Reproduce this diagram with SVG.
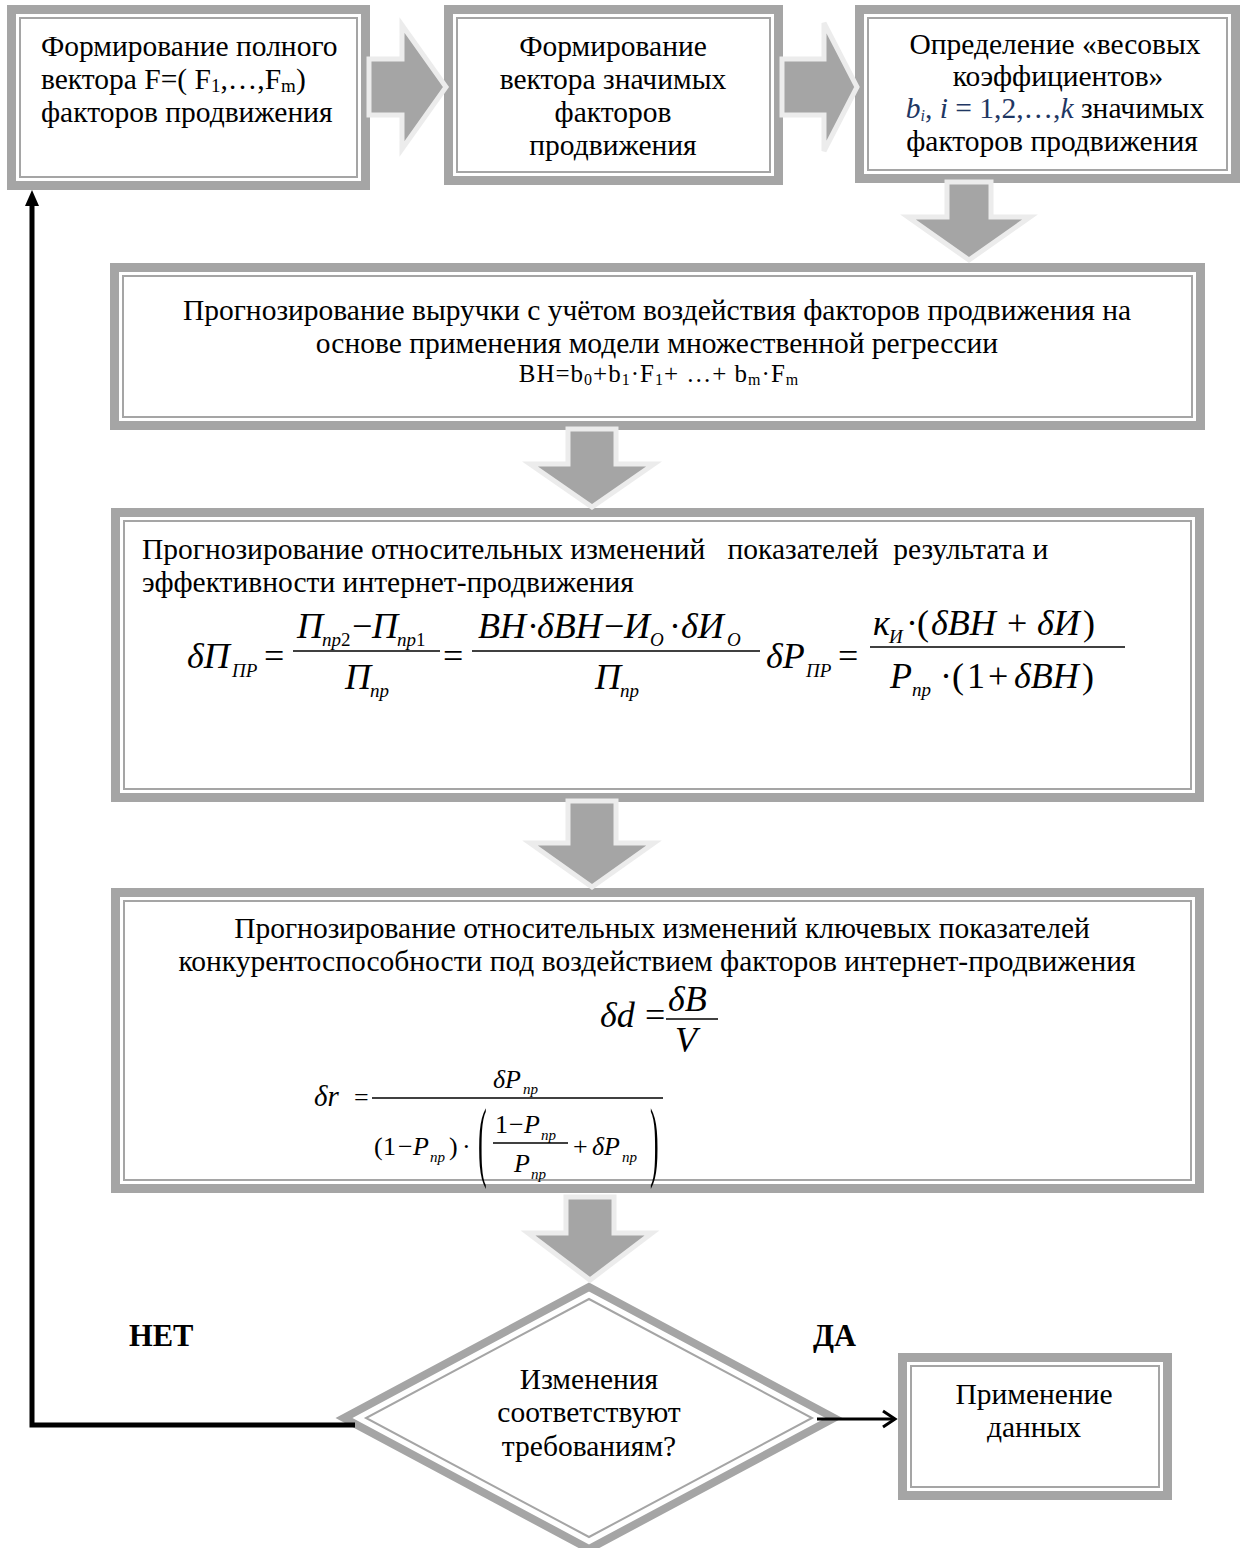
<svg xmlns="http://www.w3.org/2000/svg" width="1241" height="1548" viewBox="0 0 1241 1548">
<defs>
<style>
.t{font-family:"Liberation Serif","Times New Roman",serif;font-size:29.5px;fill:#000}
.c{text-anchor:middle}
.bd{font-weight:bold;font-size:30.5px}
.box{fill:#fff;stroke:#a5a5a5;stroke-width:9}
.inn{fill:none;stroke:#a5a5a5;stroke-width:2}
.blk{fill:#a5a5a5;stroke:#ececec;stroke-width:5;stroke-linejoin:miter}
.mi{font-family:"Liberation Serif","Times New Roman",serif;font-style:italic;font-size:36px}
.mu{font-family:"Liberation Serif","Times New Roman",serif;font-size:36px}
.si{font-family:"Liberation Serif","Times New Roman",serif;font-style:italic;font-size:19px}
.ri{font-family:"Liberation Serif","Times New Roman",serif;font-style:italic;font-size:26px}
.ru{font-family:"Liberation Serif","Times New Roman",serif;font-size:26px}
.rs{font-family:"Liberation Serif","Times New Roman",serif;font-style:italic;font-size:15px}
.bar{stroke:#000;stroke-width:1.6}
.ln{fill:none;stroke:#000;stroke-width:5}
</style>
<marker id="tri" markerUnits="userSpaceOnUse" markerWidth="16" markerHeight="14" refX="6" refY="7" orient="auto" overflow="visible">
<path d="M0,0 L16,7 L0,14 z" fill="#000"/>
</marker>
<marker id="open" markerUnits="userSpaceOnUse" markerWidth="16" markerHeight="20" refX="13" refY="9" orient="auto" overflow="visible">
<path d="M1,1 L13,9 L1,17" fill="none" stroke="#000" stroke-width="3"/>
</marker>
</defs>
<rect width="1241" height="1548" fill="#fff"/>

<g id="node-full-vector">
<rect class="box" x="11.5" y="9.5" width="354" height="176"/>
<rect class="inn" x="20" y="18" width="337" height="159"/>
<text class="t" x="41" y="56">Формирование полного</text>
<text class="t" x="41" y="89">вектора F=( F<tspan font-size="19" dy="3">1</tspan><tspan dy="-3">,…,F</tspan><tspan font-size="19" dy="3">m</tspan><tspan dy="-3">)</tspan></text>
<text class="t" x="41" y="122">факторов продвижения</text>
</g>

<g id="node-significant-vector">
<rect class="box" x="448.5" y="9.5" width="330" height="171"/>
<rect class="inn" x="457" y="18" width="313" height="154"/>
<text class="t c" x="613" y="56">Формирование</text>
<text class="t c" x="613" y="89">вектора значимых</text>
<text class="t c" x="613" y="122">факторов</text>
<text class="t c" x="613" y="155">продвижения</text>
</g>

<g id="node-weights">
<rect class="box" x="859.5" y="9.5" width="376" height="169"/>
<rect class="inn" x="868" y="18" width="359" height="152"/>
<text class="t c" x="1055" y="54">Определение «весовых</text>
<text class="t c" x="1058" y="86">коэффициентов»</text>
<text class="t c" x="1055" y="118"><tspan fill="#1f3763" font-style="italic">b</tspan><tspan fill="#1f3763" font-style="italic" font-size="16" dy="3">i</tspan><tspan fill="#1f3763" dy="-3">, </tspan><tspan fill="#1f3763" font-style="italic">i</tspan><tspan fill="#1f3763"> = 1,2,…,</tspan><tspan fill="#1f3763" font-style="italic">k</tspan> значимых</text>
<text class="t c" x="1052" y="151">факторов продвижения</text>
</g>

<g id="node-revenue">
<rect class="box" x="114.5" y="267.5" width="1086" height="158"/>
<rect class="inn" x="123" y="276" width="1069" height="141"/>
<text class="t c" x="657" y="320">Прогнозирование выручки с учётом воздействия факторов продвижения на</text>
<text class="t c" x="657" y="353">основе применения модели множественной регрессии</text>
<text class="t c" x="659" y="382" style="font-size:25px;letter-spacing:1px">ВН=b<tspan font-size="16" dy="3">0</tspan><tspan dy="-3">+b</tspan><tspan font-size="16" dy="3">1</tspan><tspan dy="-3">·F</tspan><tspan font-size="16" dy="3">1</tspan><tspan dy="-3">+ …+ b</tspan><tspan font-size="16" dy="3">m</tspan><tspan dy="-3">·F</tspan><tspan font-size="16" dy="3">m</tspan></text>
</g>

<g id="node-relative-changes">
<rect class="box" x="115.5" y="512.5" width="1084" height="285"/>
<rect class="inn" x="124" y="521" width="1067" height="268"/>
<text class="t" x="142" y="559" xml:space="preserve">Прогнозирование относительных изменений   показателей  результата и</text>
<text class="t" x="142" y="592">эффективности интернет-продвижения</text>
<g id="formula-profit">
<text class="mi" x="187" y="668">δП</text>
<text class="si" x="232" y="677">ПР</text>
<text class="mu" x="264" y="668">=</text>
<line class="bar" x1="293" y1="651" x2="440" y2="651"/>
<text class="mi" x="297" y="638">П</text>
<text class="si" x="322" y="646">пр<tspan font-style="normal">2</tspan></text>
<text class="mu" x="352" y="638">−</text>
<text class="mi" x="372" y="638">П</text>
<text class="si" x="397" y="646">пр<tspan font-style="normal">1</tspan></text>
<text class="mi" x="345" y="689">П</text>
<text class="si" x="370" y="697">пр</text>
<text class="mu" x="443" y="668">=</text>
<line class="bar" x1="472" y1="651" x2="760" y2="651"/>
<text class="mi" x="478" y="638">ВН</text>
<text class="mu" x="527" y="638">·</text>
<text class="mi" x="537" y="638">δВН</text>
<text class="mu" x="604" y="638">−</text>
<text class="mi" x="624" y="638">И</text>
<text class="si" x="650" y="646">О</text>
<text class="mu" x="669" y="638">·</text>
<text class="mi" x="681" y="638">δИ</text>
<text class="si" x="727" y="646">О</text>
<text class="mi" x="595" y="689">П</text>
<text class="si" x="620" y="697">пр</text>
<text class="mi" x="766" y="668">δР</text>
<text class="si" x="806" y="677">ПР</text>
<text class="mu" x="838" y="668">=</text>
<line class="bar" x1="870" y1="647" x2="1125" y2="647"/>
<text class="mi" x="873" y="635">к</text>
<text class="si" x="889" y="643">И</text>
<text class="mu" x="906" y="635">·</text>
<text class="mu" x="917" y="635">(</text>
<text class="mi" x="931" y="635">δВН</text>
<text class="mu" x="1007" y="635">+</text>
<text class="mi" x="1037" y="635">δИ</text>
<text class="mu" x="1083" y="635">)</text>
<text class="mi" x="890" y="688">Р</text>
<text class="si" x="912" y="696">пр</text>
<text class="mu" x="940" y="688">·</text>
<text class="mu" x="952" y="688">(</text>
<text class="mu" x="967" y="688">1</text>
<text class="mu" x="988" y="688">+</text>
<text class="mi" x="1014" y="688">δВН</text>
<text class="mu" x="1082" y="688">)</text>
</g>
</g>

<g id="node-competitiveness">
<rect class="box" x="115.5" y="892.5" width="1084" height="296"/>
<rect class="inn" x="124" y="901" width="1067" height="279"/>
<text class="t c" x="662" y="938">Прогнозирование относительных изменений ключевых показателей</text>
<text class="t c" x="657" y="971">конкурентоспособности под воздействием факторов интернет-продвижения</text>
<g id="formula-d">
<text class="mi" x="600" y="1027" font-size="37">δd</text>
<text class="mu" x="645" y="1027">=</text>
<text class="mi" x="668" y="1011">δB</text>
<line class="bar" x1="666" y1="1019" x2="718" y2="1019"/>
<text class="mi" x="675" y="1052">V</text>
</g>
<g id="formula-r">
<text class="ri" x="314" y="1106" style="font-size:29px">δr</text>
<text class="ru" x="354" y="1106">=</text>
<line class="bar" x1="372" y1="1098" x2="663" y2="1098"/>
<text class="ri" x="493" y="1088">δР</text>
<text class="rs" x="523" y="1094">пр</text>
<text class="ru" x="374" y="1155">(</text>
<text class="ru" x="383" y="1155">1</text>
<text class="ru" x="398" y="1155">−</text>
<text class="ri" x="413" y="1155">Р</text>
<text class="rs" x="430" y="1162">пр</text>
<text class="ru" x="449" y="1155">)</text>
<text class="ru" x="462" y="1155">·</text>
<text class="ru" transform="translate(478,1170) scale(1,3.45)">(</text>
<text class="ru" x="495" y="1133">1</text>
<text class="ru" x="509" y="1133">−</text>
<text class="ri" x="524" y="1133">Р</text>
<text class="rs" x="541" y="1140">пр</text>
<line class="bar" x1="493" y1="1143" x2="568" y2="1143"/>
<text class="ri" x="514" y="1172">Р</text>
<text class="rs" x="531" y="1179">пр</text>
<text class="ru" x="573" y="1155">+</text>
<text class="ri" x="592" y="1155">δР</text>
<text class="rs" x="622" y="1162">пр</text>
<text class="ru" transform="translate(650,1170) scale(1,3.45)">)</text>
</g>
</g>

<g id="node-decision">
<polygon points="589,1287 834,1418 589,1549 344,1418" fill="#fff" stroke="#a5a5a5" stroke-width="8"/>
<polygon points="589,1299 812,1418 589,1537 366,1418" fill="none" stroke="#a5a5a5" stroke-width="2"/>
<text class="t c" x="589" y="1389">Изменения</text>
<text class="t c" x="589" y="1422">соответствуют</text>
<text class="t c" x="589" y="1456">требованиям?</text>
</g>

<g id="node-apply">
<rect class="box" x="902.5" y="1357.5" width="265" height="138"/>
<rect class="inn" x="911" y="1366" width="248" height="121"/>
<text class="t c" x="1034" y="1404">Применение</text>
<text class="t c" x="1034" y="1437">данных</text>
</g>

<g id="connectors">
<polygon class="blk" points="369,59 402,59 402,25 446,87 402,149 402,115 369,115"/>
<polygon class="blk" points="782,59 824,59 824,23 857,87 824,151 824,115 782,115"/>
<polygon class="blk" points="947,182 991,182 991,217 1030,217 969,260 908,217 947,217"/>
<polygon class="blk" points="568,429 616,429 616,464 654,464 592,507 530,464 568,464"/>
<polygon class="blk" points="568,801 616,801 616,843 654,843 592,887 530,843 568,843"/>
<polygon class="blk" points="566,1197 614,1197 614,1233 652,1233 590,1280 528,1233 566,1233"/>
<path class="ln" d="M355,1425 H32 V200" marker-end="url(#tri)"/>
<path d="M817,1419 H895" fill="none" stroke="#000" stroke-width="3" marker-end="url(#open)"/>
<text class="t bd" x="129" y="1346">НЕТ</text>
<text class="t bd" x="813" y="1346">ДА</text>
</g>
</svg>
